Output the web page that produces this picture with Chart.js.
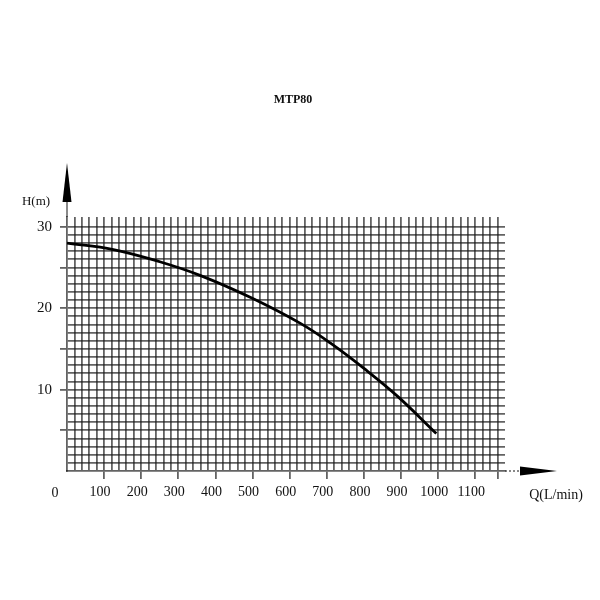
<!DOCTYPE html>
<html>
<head>
<meta charset="utf-8">
<title>MTP80</title>
<script src="https://cdn.jsdelivr.net/npm/chart.js@4.4.1/dist/chart.umd.min.js"></script>
<style>
  html, body { margin: 0; padding: 0; background: #fff; }
  #wrap { width: 600px; height: 600px; }
</style>
</head>
<body>
<div id="wrap"><canvas id="pump" width="600" height="600"></canvas></div>
<script>
/* MTP80 pump curve: H (m) against Q (L/min) */

const chartTitle = 'MTP80';
const xAxisName = 'Q(L/min)';
const yAxisName = 'H(m)';

const flowQ = [0, 125, 250, 360, 495, 630, 710, 800, 890, 995];
const headH = [28.0, 27.2, 25.7, 24.0, 21.3, 18.1, 15.7, 12.6, 9.2, 4.6];

const xLabelValues = [100, 200, 300, 400, 500, 600, 700, 800, 900, 1000, 1100];
const yLabelValues = [10, 20, 30];

const X_MAX = 1180, X_STEP = 20, X_LAST_LINE = 1160;
const Y_MAX = 31.2, Y_STEP = 1, Y_LAST_LINE = 30;

const ink = '#111';
const gridInk = 'rgba(25,25,25,0.68)';
const serif = '"Liberation Serif", "DejaVu Serif", serif';

const decorations = {
    id: 'decorations',
    afterDraw(chart) {
        const c = chart.ctx;
        const a = chart.chartArea;
        const x0 = chart.scales.x.getPixelForValue(0);
        const y0 = chart.scales.y.getPixelForValue(0);
        c.save();

        // y axis stem + arrow
        c.strokeStyle = gridInk;
        c.lineWidth = 1.5;
        c.beginPath();
        c.moveTo(x0, a.top);
        c.lineTo(x0, 202);
        c.stroke();
        c.fillStyle = '#000';
        c.beginPath();
        c.moveTo(x0, 163);
        c.lineTo(x0 - 4.5, 202);
        c.lineTo(x0 + 4.5, 202);
        c.closePath();
        c.fill();

        // x axis dotted run + arrow
        c.setLineDash([2, 2]);
        c.beginPath();
        c.moveTo(a.right, y0);
        c.lineTo(520, y0);
        c.stroke();
        c.setLineDash([]);
        c.beginPath();
        c.moveTo(557, y0);
        c.lineTo(520, y0 - 4.5);
        c.lineTo(520, y0 + 4.5);
        c.closePath();
        c.fill();

        // texts
        c.fillStyle = ink;
        c.textAlign = 'center';
        c.textBaseline = 'middle';
        c.font = 'bold 12px ' + serif;
        c.fillText(chartTitle, 293, 100);
        c.font = '13px ' + serif;
        c.fillText(yAxisName, 36, 202);
        c.font = '14px ' + serif;
        c.fillText(xAxisName, 556, 495);
        c.fillText('0', x0 - 12, 493);
        c.restore();
    }
};

new Chart(document.getElementById('pump').getContext('2d'), {
    type: 'scatter',
    data: {
        datasets: [{
            label: chartTitle,
            data: flowQ.map((q, i) => ({ x: q, y: headH[i] })),
            showLine: true,
            borderColor: '#000',
            borderWidth: 2.8,
            pointRadius: 0,
            tension: 0.4,
            fill: false,
        }]
    },
    options: {
        responsive: false,
        animation: false,
        layout: { padding: { left: 7, top: 217, right: 95, bottom: 89 } },
        plugins: { legend: { display: false }, tooltip: { enabled: false } },
        scales: {
            x: {
                type: 'linear',
                min: 0,
                max: X_MAX,
                afterFit(s) { s.height = 40; },
                border: { display: true, color: gridInk, width: 1.8 },
                grid: {
                    drawTicks: true,
                    tickLength: 8,
                    lineWidth: 1.8,
                    color: ctx => (ctx.tick && ctx.tick.value > 0 && ctx.tick.value <= X_LAST_LINE) ? gridInk : 'transparent',
                    tickColor: ctx => (ctx.tick && ctx.tick.value > 0 && (xLabelValues.includes(ctx.tick.value) || ctx.tick.value === X_LAST_LINE)) ? gridInk : 'transparent',
                },
                ticks: {
                    stepSize: X_STEP,
                    autoSkip: false,
                    maxRotation: 0,
                    padding: 5,
                    labelOffset: -4,
                    color: ink,
                    font: { family: serif, size: 14 },
                    callback: v => xLabelValues.includes(v) ? String(v) : '',
                }
            },
            y: {
                type: 'linear',
                min: 0,
                max: Y_MAX,
                afterFit(s) { s.width = 60; },
                border: { display: true, color: gridInk, width: 1.8 },
                grid: {
                    drawTicks: true,
                    tickLength: 7,
                    lineWidth: 1.8,
                    color: ctx => (ctx.tick && ctx.tick.value > 0 && ctx.tick.value <= Y_LAST_LINE && Number.isInteger(ctx.tick.value)) ? gridInk : 'transparent',
                    tickColor: ctx => (ctx.tick && ctx.tick.value > 0 && ctx.tick.value % 5 === 0) ? gridInk : 'transparent',
                },
                ticks: {
                    stepSize: Y_STEP,
                    autoSkip: false,
                    padding: 8,
                    color: ink,
                    font: { family: serif, size: 15 },
                    callback: v => yLabelValues.includes(v) ? String(v) : '',
                }
            }
        }
    },
    plugins: [decorations]
});
</script>
</body>
</html>
